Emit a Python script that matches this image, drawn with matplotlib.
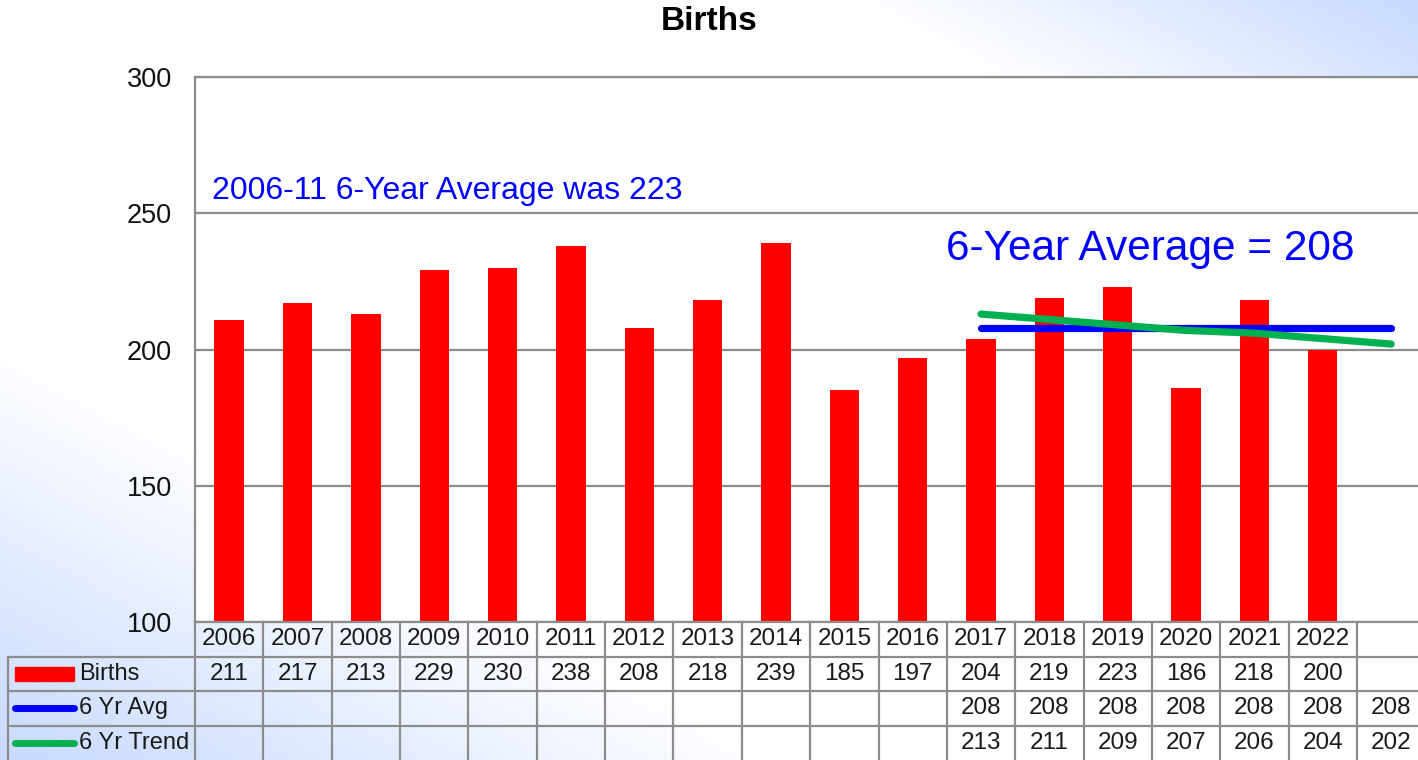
import matplotlib
matplotlib.use("Agg")
import matplotlib.pyplot as plt
import numpy as np

plt.rcParams['font.family'] = ['Liberation Sans', 'DejaVu Sans']

# data
years = ['2006', '2007', '2008', '2009', '2010', '2011', '2012', '2013', '2014',
         '2015', '2016', '2017', '2018', '2019', '2020', '2021', '2022', '']
births = [211, 217, 213, 229, 230, 238, 208, 218, 239, 185, 197, 204, 219, 223, 186, 218, 200]
avg_start = 11
avg6 = [208, 208, 208, 208, 208, 208, 208]
trend6 = [213, 211, 209, 207, 206, 204, 202]
yticks = [100, 150, 200, 250, 300]

W, H = 1418, 760
fig = plt.figure(figsize=(W / 100, H / 100), dpi=100)

# background gradient (white diagonal, blue corners)
bg = fig.add_axes([0, 0, 1, 1], zorder=-10)
xx, yy = np.meshgrid(np.linspace(0, 1, 300), np.linspace(0, 1, 200))
s = xx + yy - 1
t = np.where(s > 0, np.clip((s - 0.6) / 0.4, 0, 1), np.clip((-s - 0.45) / 0.55, 0, 1))
blue = np.array([200, 218, 255]) / 255.
img = (1 - t[..., None]) * np.ones(3) + t[..., None] * blue
bg.imshow(img, origin='lower', extent=[0, 1, 0, 1], aspect='auto')
bg.axis('off')

grid_c = '#8c8c8c'
left = 195 / W
slot = 68.35
right = (195 + 18 * slot) / W
bottom = (H - 622) / H
top = (H - 77) / H

ax = fig.add_axes([left, bottom, right - left, top - bottom])
ax.set_facecolor('white')
x = np.arange(len(years))
ax.bar(x[:len(births)], births, width=0.43, color='#ff0000', zorder=3)
xa = x[avg_start:avg_start + len(avg6)]
ax.plot(xa, avg6, color='#0000ff', lw=5.2, solid_capstyle='round', zorder=4)
ax.plot(xa, trend6, color='#00b050', lw=5.2, solid_capstyle='round', zorder=5)
ax.set_xlim(-0.5, len(years) - 0.5)
ax.set_ylim(100, 300)
ax.set_yticks(yticks)
ax.set_xticks([])
ax.yaxis.grid(True, color=grid_c, lw=1.6, zorder=0)
ax.tick_params(axis='y', labelsize=19.5, length=5, width=1.5, color=grid_c,
               direction='in', pad=16.5, labelcolor='#111111')
for sp in ax.spines.values():
    sp.set_color(grid_c)
    sp.set_linewidth(1.6)
ax.spines['bottom'].set_visible(False)

ax.text(-0.25, 258.2, '2006-11 6-Year Average was 223', color='#0000ff',
        fontsize=23, va='center', ha='left')
ax.text(13.47, 236.9, '6-Year Average = 208', color='#0000ff',
        fontsize=30.5, va='center', ha='center')

fig.text(0.5, 1 - 22 / H, 'Births', fontsize=24, fontweight='bold',
         ha='center', va='center')

# data table
tb = fig.add_axes([left, 0, right - left, bottom])
tb.set_xlim(-0.5, len(years) - 0.5)
tb.set_ylim(4, 0)
tb.axis('off')
x_lab = -0.5 - (195 - 8) / slot
lk = dict(color=grid_c, lw=1.6, clip_on=False)
# horizontal lines
tb.plot([-0.5, len(years) - 0.5], [0, 0], **lk)
for r in [1, 2, 3]:
    tb.plot([x_lab, len(years) - 0.5], [r, r], **lk)
# vertical lines
for c in range(len(years) + 1):
    tb.plot([c - 0.5, c - 0.5], [0, 4], **lk)
tb.plot([x_lab, x_lab], [1, 4], **lk)

fs = 17.5
tc = '#1a1a1a'
for i, yv in enumerate(years):
    tb.text(i, 0.5, yv, ha='center', va='center', fontsize=fs, color=tc)
for i, v in enumerate(births):
    tb.text(i, 1.5, str(v), ha='center', va='center', fontsize=fs, color=tc)
for i, v in enumerate(avg6):
    tb.text(avg_start + i, 2.5, str(v), ha='center', va='center', fontsize=fs, color=tc)
for i, v in enumerate(trend6):
    tb.text(avg_start + i, 3.5, str(v), ha='center', va='center', fontsize=fs, color=tc)

# legend keys
k0 = x_lab + 7 / slot
k1 = x_lab + 66 / slot
tb.add_patch(plt.Rectangle((k0, 1.3), k1 - k0, 0.42, color='#ff0000', clip_on=False))
tb.plot([k0, k1], [2.5, 2.5], color='#0000ff', lw=5, solid_capstyle='round', clip_on=False)
tb.plot([k0, k1], [3.5, 3.5], color='#00b050', lw=5, solid_capstyle='round', clip_on=False)
tx = x_lab + 71 / slot
for r, lab in enumerate(['Births', '6 Yr Avg', '6 Yr Trend']):
    tb.text(tx, 1.5 + r, lab, ha='left', va='center', fontsize=17, color=tc, clip_on=False)

fig.savefig('out.png', dpi=100)
